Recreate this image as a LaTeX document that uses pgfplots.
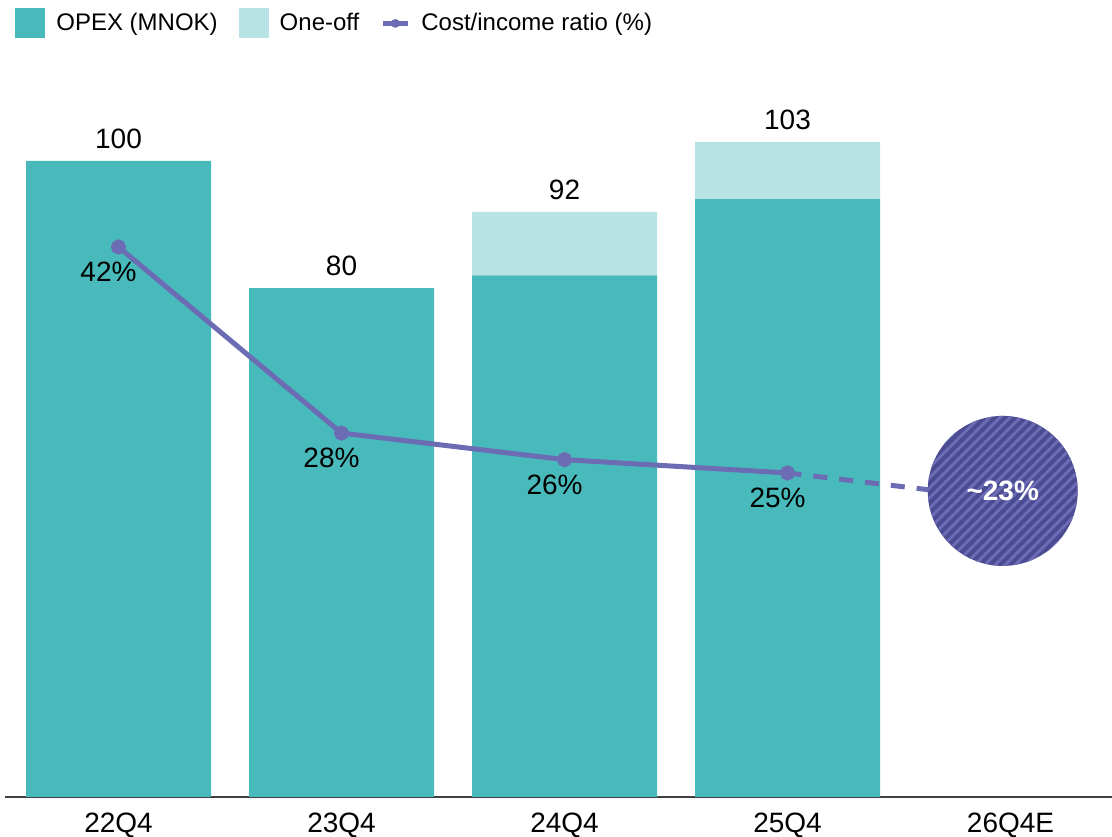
\documentclass[border=0pt]{standalone}
\usepackage{pgfplots}
\pgfplotsset{compat=1.18}
\usepackage{fontspec}
\setmainfont{Liberation Sans}
\usetikzlibrary{patterns.meta}
\definecolor{opex}{HTML}{48BABB}
\definecolor{oneoff}{HTML}{B8E3E4}
\definecolor{linec}{HTML}{6C6CB4}
\definecolor{circdark}{HTML}{4B4B92}
\definecolor{circlight}{HTML}{6C6CB6}
\definecolor{axisc}{HTML}{404040}
\pgfplotstableread{
x y
0 100
1 80
2 82
3 94
}\opextab
\pgfplotstableread{
x y
0 0
1 0
2 10
3 9
}\oneofftab
\pgfplotstableread{
x y label
0 100 100
1 80 80
2 92 92
3 103 103
}\totaltab
\begin{document}
\begin{tikzpicture}[font=\fontsize{14pt}{16.8pt}\selectfont]
\begin{axis}[
  scale only axis, width=553.5pt, height=365.7pt,
  xmin=-0.509, xmax=4.455, ymin=0, ymax=115,
  ybar stacked, bar width=92.5pt,
  axis x line=bottom, axis y line=none,
  x axis line style={-, color=axisc, line width=1pt},
  xtick={0,1,2,3,4}, xticklabels={22Q4,23Q4,24Q4,25Q4,26Q4E},
  major tick length=0pt,
  xticklabel style={anchor=base, yshift=-18pt},
  legend columns=-1,
  legend style={at={(0,1)}, anchor=north west, xshift=5pt, yshift=28.8pt,
    draw=none, fill=none, inner sep=0pt,
    font=\fontsize{12pt}{14pt}\selectfont,
    nodes={inner sep=0pt},
    /tikz/every even column/.append style={column sep=10.5pt},
    /tikz/every odd column/.append style={column sep=5.5pt}},
  legend cell align=left,
]
\coordinate (O) at (rel axis cs:0,0);
\coordinate (T) at (rel axis cs:1,1);
\addplot[fill=opex, draw=none,
  legend image code/.code={\fill[opex] (0pt,-7.5pt) rectangle (15pt,7.5pt);}]
  table[x=x,y=y] {\opextab};
\addlegendentry{OPEX (MNOK)}
\addplot[fill=oneoff, draw=none,
  legend image code/.code={\fill[oneoff] (0pt,-7.5pt) rectangle (15pt,7.5pt);}]
  table[x=x,y=y] {\oneofftab};
\addlegendentry{One-off}
\addlegendimage{draw=none, fill=none, legend image code/.code={\draw[draw=linec, line width=2.8pt] (1.4pt,0pt) -- (13.6pt,0pt); \fill[fill=linec] (7.5pt,0pt) circle (2.2pt);}}
\addlegendentry{Cost/income ratio (\%)}
\end{axis}
\begin{axis}[
  scale only axis, width=553.5pt, height=365.7pt,
  xmin=-0.509, xmax=4.455, ymin=0, ymax=115,
  hide axis, clip=false]
\addplot[draw=none, mark=none, nodes near coords, point meta=explicit symbolic,
  every node near coord/.append style={anchor=south, text=black, yshift=2.6pt}]
  table[x=x,y=y,meta=label] {\totaltab};
\end{axis}
\begin{axis}[
  scale only axis, width=553.5pt, height=365.7pt,
  xmin=-0.509, xmax=4.455, ymin=0.62, ymax=55.65,
  hide axis, clip=false]
\addplot[linec, line width=2.5pt, dash pattern=on 7pt off 6pt]
  coordinates {(3,25) (4,23)};
\addplot[linec, line width=2.5pt, mark=*, mark size=2.5pt, mark options={draw=none, fill=linec},
  nodes near coords, point meta=explicit symbolic,
  every node near coord/.append style={anchor=north, yshift=-3pt, xshift=-5pt, text=black}]
  coordinates {(0,42) [42\%] (1,28) [28\%] (2,26) [26\%] (3,25) [25\%]};
\addplot[draw=none, mark=none,
  nodes near coords={\bfseries\textasciitilde 23\%},
  every node near coord/.append style={circle, fill=circdark, minimum size=75pt, inner sep=0pt,
    anchor=center, text=white, yshift=-1pt,
    postaction={pattern={Lines[angle=45,distance=3.6pt,line width=1.5pt]}, pattern color=circlight}}]
  coordinates {(3.965,23.8)};
\end{axis}
\pgfresetboundingbox
\path ([shift={(-2.5pt,-20pt)}]O) rectangle ([shift={(0pt,32.8pt)}]T);
\end{tikzpicture}
\end{document}
